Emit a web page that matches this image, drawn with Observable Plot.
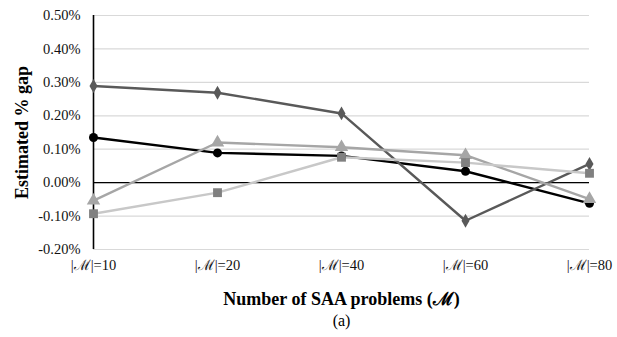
<!DOCTYPE html>
<html><head><meta charset="utf-8">
<script src="https://cdn.jsdelivr.net/npm/d3@7"></script>
<script src="https://cdn.jsdelivr.net/npm/@observablehq/plot@0.6"></script>
<style>
body{margin:0;background:#fff}
</style>
</head><body><div id="chart"></div>
<script>
const categories = ["|ℳ|=10", "|ℳ|=20", "|ℳ|=40", "|ℳ|=60", "|ℳ|=80"];
const yTicks = [-0.2, -0.1, 0, 0.1, 0.2, 0.3, 0.4, 0.5];
const seriesNames = ["circle", "diamond", "triangle", "square"];
const circleVals = [0.135, 0.089, 0.080, 0.034, -0.062];
const diamondVals = [0.289, 0.269, 0.207, -0.114, 0.056];
const triangleVals = [-0.054, 0.120, 0.106, 0.082, -0.049];
const squareVals = [-0.093, -0.030, 0.076, 0.060, 0.028];

const series = [
  {name: "circle", vals: circleVals, line: "#000000", fill: "#000000", symbol: "circle", r: 4.5},
  {name: "diamond", vals: diamondVals, line: "#595959", fill: "#595959", symbol: "diamond", r: 4.2},
  {name: "triangle", vals: triangleVals, line: "#a6a6a6", fill: "#a6a6a6", symbol: "triangle", r: 5},
  {name: "square", vals: squareVals, line: "#c8c8c8", fill: "#808080", symbol: "square", r: 5}
];

const tickFont = {fontSize: 14.5, fontFamily: "Liberation Serif"};

const marks = [
  Plot.gridY(yTicks, {stroke: "#d9d9d9", strokeOpacity: 1, strokeWidth: 1.2}),
  Plot.ruleY([0], {stroke: "#000", strokeWidth: 1.4}),
  Plot.ruleX([categories[0]], {stroke: "#000", strokeWidth: 1.6}),
  Plot.text(yTicks, {y: d => d, frameAnchor: "left", textAnchor: "end", dx: -13, text: d => d.toFixed(2) + "%", fill: "#111", ...tickFont}),
  Plot.text(categories, {x: d => d, frameAnchor: "bottom", dy: 20, text: d => d, fill: "#111", ...tickFont})
];
for (const s of series) {
  const data = categories.map((c, i) => ({c, v: s.vals[i]}));
  marks.push(Plot.line(data, {x: "c", y: "v", stroke: s.line, strokeWidth: 2.4}));
}
for (const s of series) {
  const data = categories.map((c, i) => ({c, v: s.vals[i]}));
  marks.push(Plot.dot(data, {x: "c", y: "v", symbol: s.symbol, r: s.r, fill: s.fill, stroke: "none"}));
}
marks.push(
  Plot.text(["Number of SAA problems (ℳ)"], {frameAnchor: "bottom", dy: 55, text: d => d, fontSize: 18, fontWeight: "bold", fontFamily: "Liberation Serif", fill: "#000"}),
  Plot.text(["(a)"], {frameAnchor: "bottom", dy: 76, text: d => d, fontSize: 16, fontFamily: "Liberation Serif", fill: "#000"}),
  Plot.text(["Estimated % gap"], {frameAnchor: "left", textAnchor: "middle", dx: -71, rotate: -90, text: d => d, fontSize: 18, fontWeight: "bold", fontFamily: "Liberation Serif", fill: "#000"})
);

const chart = Plot.plot({
  width: 617, height: 337,
  marginLeft: 93, marginRight: 28, marginTop: 15, marginBottom: 88,
  x: {type: "point", domain: categories, padding: 0, axis: null},
  y: {domain: [-0.2, 0.5], axis: null},
  style: {background: "#fff", overflow: "visible", fontFamily: "Liberation Serif"},
  marks
});
document.getElementById("chart").appendChild(chart);
</script>
</body></html>
